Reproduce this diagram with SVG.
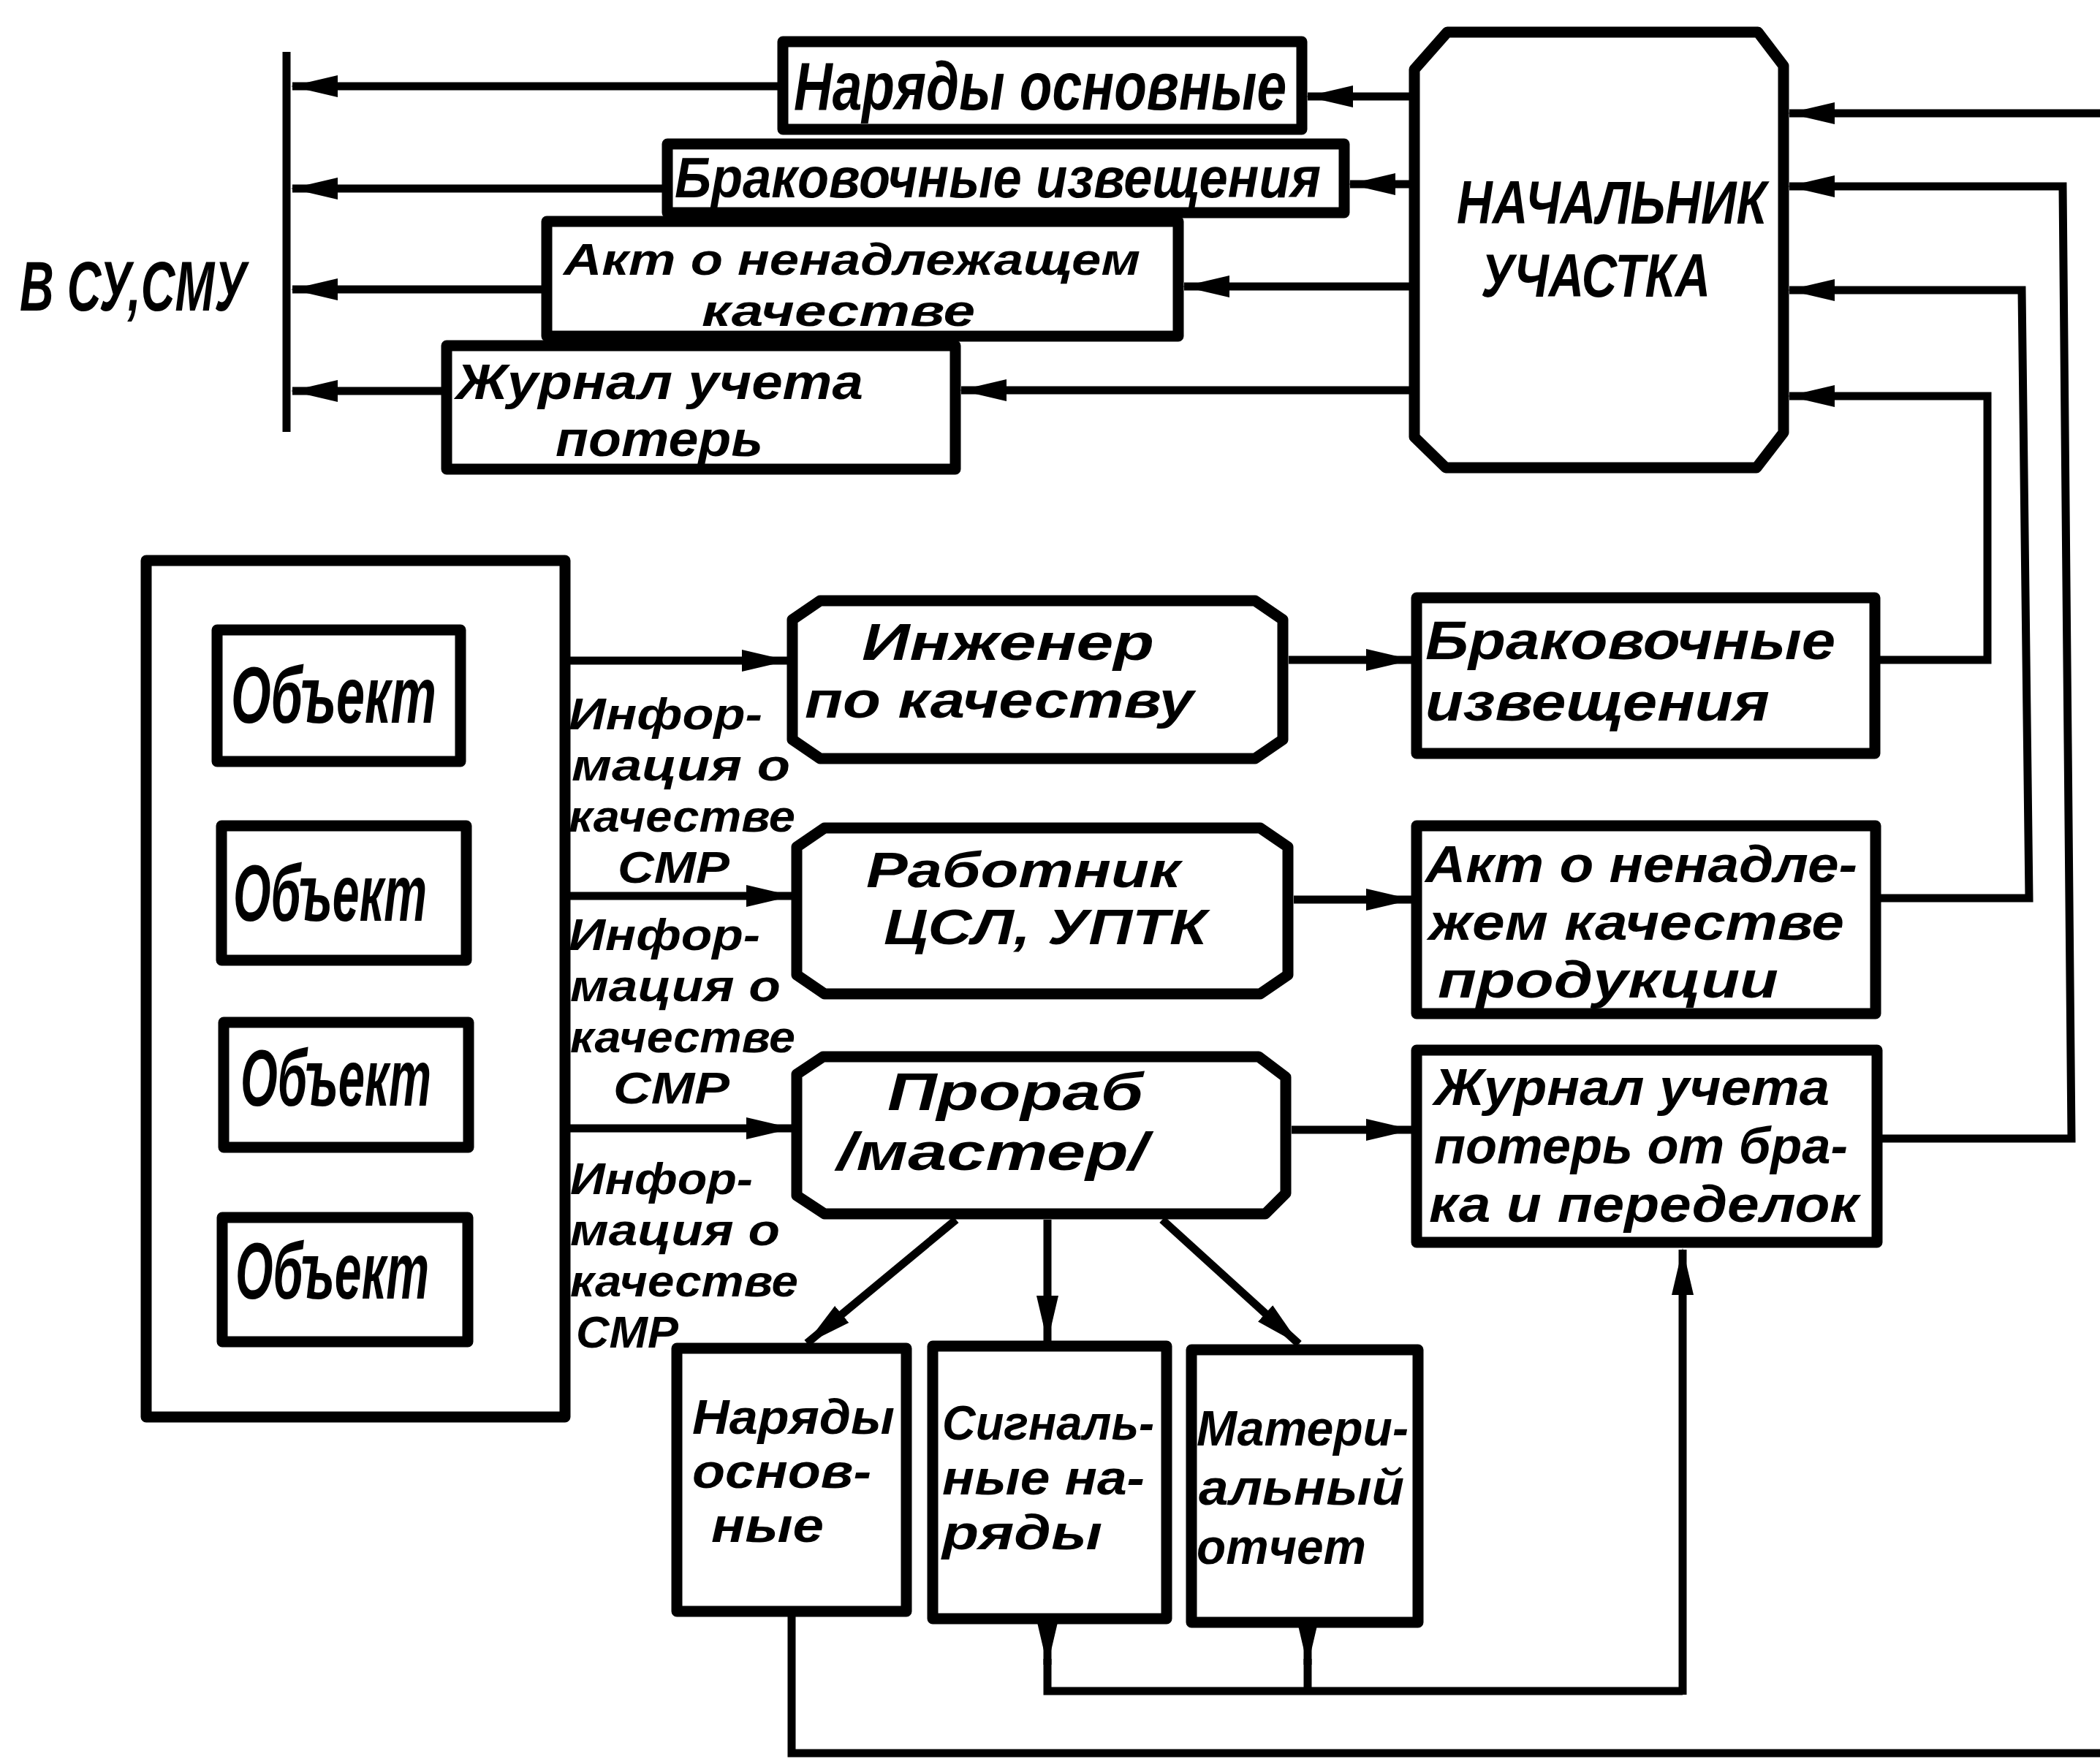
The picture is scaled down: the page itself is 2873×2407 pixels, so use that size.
<svg xmlns="http://www.w3.org/2000/svg" width="2873" height="2407" viewBox="0 0 2873 2407">
<style>
.box{fill:#fff;stroke:#000;stroke-width:15;stroke-linejoin:round}
.ln{fill:none;stroke:#000;stroke-width:11;stroke-linejoin:miter}
.t{font-family:"Liberation Sans",Arial,sans-serif;font-weight:bold;font-style:italic;fill:#000}
</style>
<defs>
<marker id="ah" markerUnits="userSpaceOnUse" markerWidth="64" markerHeight="32" viewBox="0 0 64 32" refX="62" refY="16" orient="auto"><path d="M0,1 L64,16 L0,31 Z" fill="#000"/></marker>
</defs>
<rect width="2873" height="2407" fill="#fff"/>

<text class="t" x="27" y="425" font-size="96" textLength="310" lengthAdjust="spacingAndGlyphs">В СУ,СМУ</text>

<g id="top-naryady">
<rect class="box" x="1071" y="57" width="710" height="120"/>
<text class="t" x="1086" y="150" font-size="92" textLength="674" lengthAdjust="spacingAndGlyphs">Наряды основные</text>
</g>
<g id="top-brak">
<rect class="box" x="913" y="197" width="926" height="94"/>
<text class="t" x="923" y="270" font-size="78" textLength="884" lengthAdjust="spacingAndGlyphs">Браковочные извещения</text>
</g>
<g id="top-akt">
<rect class="box" x="748" y="303" width="864" height="157"/>
<text class="t" x="771" y="376" font-size="62" textLength="789" lengthAdjust="spacingAndGlyphs">Акт о ненадлежащем</text>
<text class="t" x="960" y="446" font-size="62" textLength="374" lengthAdjust="spacingAndGlyphs">качестве</text>
</g>
<g id="top-zhurnal">
<rect class="box" x="611" y="473" width="696" height="169"/>
<text class="t" x="624" y="546" font-size="68" textLength="557" lengthAdjust="spacingAndGlyphs">Журнал учета</text>
<text class="t" x="760" y="624" font-size="68" textLength="284" lengthAdjust="spacingAndGlyphs">потерь</text>
</g>

<g id="nachalnik">
<polygon class="box" points="1980,44 2405,44 2440,90 2440,592 2403,640 1978,640 1935,598 1935,95"/>
<text class="t" x="1993" y="306" font-size="84" textLength="424" lengthAdjust="spacingAndGlyphs">НАЧАЛЬНИК</text>
<text class="t" x="2026" y="406" font-size="84" textLength="314" lengthAdjust="spacingAndGlyphs">УЧАСТКА</text>
</g>

<g id="objects">
<rect class="box" x="200" y="767" width="573" height="1172"/>
<g id="obj1">
<rect class="box" x="297" y="862" width="333" height="180"/>
<text class="t" x="316" y="989" font-size="110" textLength="281" lengthAdjust="spacingAndGlyphs">Объект</text>
</g>
<g id="obj2">
<rect class="box" x="303" y="1130" width="335" height="184"/>
<text class="t" x="319" y="1260" font-size="110" textLength="265" lengthAdjust="spacingAndGlyphs">Объект</text>
</g>
<g id="obj3">
<rect class="box" x="306" y="1399" width="335" height="171"/>
<text class="t" x="329" y="1513" font-size="110" textLength="261" lengthAdjust="spacingAndGlyphs">Объект</text>
</g>
<g id="obj4">
<rect class="box" x="304" y="1666" width="336" height="170"/>
<text class="t" x="322" y="1777" font-size="110" textLength="265" lengthAdjust="spacingAndGlyphs">Объект</text>
</g>
</g>

<g id="info1">
<text class="t" x="778" y="998" font-size="62" textLength="265" lengthAdjust="spacingAndGlyphs">Инфор-</text>
<text class="t" x="782" y="1068" font-size="62" textLength="299" lengthAdjust="spacingAndGlyphs">мация о</text>
<text class="t" x="778" y="1138" font-size="62" textLength="310" lengthAdjust="spacingAndGlyphs">качестве</text>
<text class="t" x="845" y="1208" font-size="62" textLength="153" lengthAdjust="spacingAndGlyphs">СМР</text>
</g>
<g id="info2">
<text class="t" x="778" y="1300" font-size="62" textLength="262" lengthAdjust="spacingAndGlyphs">Инфор-</text>
<text class="t" x="780" y="1370" font-size="62" textLength="288" lengthAdjust="spacingAndGlyphs">мация о</text>
<text class="t" x="780" y="1440" font-size="62" textLength="308" lengthAdjust="spacingAndGlyphs">качестве</text>
<text class="t" x="839" y="1510" font-size="62" textLength="159" lengthAdjust="spacingAndGlyphs">СМР</text>
</g>
<g id="info3">
<text class="t" x="780" y="1634" font-size="62" textLength="250" lengthAdjust="spacingAndGlyphs">Инфор-</text>
<text class="t" x="780" y="1704" font-size="62" textLength="287" lengthAdjust="spacingAndGlyphs">мация о</text>
<text class="t" x="780" y="1774" font-size="62" textLength="312" lengthAdjust="spacingAndGlyphs">качестве</text>
<text class="t" x="788" y="1844" font-size="62" textLength="140" lengthAdjust="spacingAndGlyphs">СМР</text>
</g>

<g id="inzhener">
<polygon class="box" points="1122,822 1717,822 1755,848 1755,1012 1717,1038 1122,1038 1084,1012 1084,848"/>
<text class="t" x="1179" y="903" font-size="70" textLength="400" lengthAdjust="spacingAndGlyphs">Инженер</text>
<text class="t" x="1101" y="982" font-size="70" textLength="532" lengthAdjust="spacingAndGlyphs">по качеству</text>
</g>
<g id="rabotnik">
<polygon class="box" points="1128,1133 1724,1133 1762,1159 1762,1334 1724,1360 1128,1360 1090,1334 1090,1159"/>
<text class="t" x="1185" y="1214" font-size="68" textLength="430" lengthAdjust="spacingAndGlyphs">Работник</text>
<text class="t" x="1209" y="1292" font-size="68" textLength="442" lengthAdjust="spacingAndGlyphs">ЦСЛ, УПТК</text>
</g>
<g id="prorab">
<polygon class="box" points="1126,1446 1722,1446 1759,1474 1759,1633 1731,1661 1128,1661 1090,1636 1090,1470"/>
<text class="t" x="1214" y="1519" font-size="72" textLength="350" lengthAdjust="spacingAndGlyphs">Прораб</text>
<text class="t" x="1145" y="1601" font-size="72" textLength="425" lengthAdjust="spacingAndGlyphs">/мастер/</text>
</g>

<g id="brak-izv">
<rect class="box" x="1938" y="818" width="627" height="213"/>
<text class="t" x="1950" y="902" font-size="74" textLength="561" lengthAdjust="spacingAndGlyphs">Браковочные</text>
<text class="t" x="1950" y="986" font-size="74" textLength="471" lengthAdjust="spacingAndGlyphs">извещения</text>
</g>
<g id="akt">
<rect class="box" x="1938" y="1130" width="628" height="257"/>
<text class="t" x="1950" y="1207" font-size="70" textLength="591" lengthAdjust="spacingAndGlyphs">Акт о ненадле-</text>
<text class="t" x="1955" y="1286" font-size="70" textLength="568" lengthAdjust="spacingAndGlyphs">жем качестве</text>
<text class="t" x="1967" y="1365" font-size="70" textLength="466" lengthAdjust="spacingAndGlyphs">продукции</text>
</g>
<g id="zhurnal">
<rect class="box" x="1938" y="1437" width="630" height="263"/>
<text class="t" x="1962" y="1512" font-size="71" textLength="541" lengthAdjust="spacingAndGlyphs">Журнал учета</text>
<text class="t" x="1962" y="1592" font-size="71" textLength="566" lengthAdjust="spacingAndGlyphs">потерь от бра-</text>
<text class="t" x="1955" y="1672" font-size="71" textLength="588" lengthAdjust="spacingAndGlyphs">ка и переделок</text>
</g>

<g id="naryady">
<rect class="box" x="926" y="1845" width="314" height="360"/>
<text class="t" x="947" y="1962" font-size="66" textLength="277" lengthAdjust="spacingAndGlyphs">Наряды</text>
<text class="t" x="947" y="2036" font-size="66" textLength="245" lengthAdjust="spacingAndGlyphs">основ-</text>
<text class="t" x="973" y="2110" font-size="66" textLength="154" lengthAdjust="spacingAndGlyphs">ные</text>
</g>
<g id="signalnye">
<rect class="box" x="1276" y="1842" width="320" height="373"/>
<text class="t" x="1289" y="1970" font-size="66" textLength="290" lengthAdjust="spacingAndGlyphs">Сигналь-</text>
<text class="t" x="1289" y="2045" font-size="66" textLength="277" lengthAdjust="spacingAndGlyphs">ные на-</text>
<text class="t" x="1289" y="2120" font-size="66" textLength="219" lengthAdjust="spacingAndGlyphs">ряды</text>
</g>
<g id="material">
<rect class="box" x="1630" y="1847" width="310" height="373"/>
<text class="t" x="1637" y="1978" font-size="68" textLength="290" lengthAdjust="spacingAndGlyphs">Матери-</text>
<text class="t" x="1640" y="2059" font-size="68" textLength="281" lengthAdjust="spacingAndGlyphs">альный</text>
<text class="t" x="1637" y="2140" font-size="68" textLength="232" lengthAdjust="spacingAndGlyphs">отчет</text>
</g>

<g id="connectors">
<path class="ln" d="M392,71 V591"/>
<path class="ln" d="M1071,118 H400" marker-end="url(#ah)"/>
<path class="ln" d="M913,258 H400" marker-end="url(#ah)"/>
<path class="ln" d="M748,396 H400" marker-end="url(#ah)"/>
<path class="ln" d="M611,535 H400" marker-end="url(#ah)"/>
<path class="ln" d="M1928,132 H1789" marker-end="url(#ah)"/>
<path class="ln" d="M1928,252 H1847" marker-end="url(#ah)"/>
<path class="ln" d="M1928,392 H1620" marker-end="url(#ah)"/>
<path class="ln" d="M1928,534 H1315" marker-end="url(#ah)"/>
<path class="ln" d="M2873,155 H2448" marker-end="url(#ah)"/>
<path class="ln" d="M2571,1558 H2834 L2822,255 H2448" marker-end="url(#ah)"/>
<path class="ln" d="M2573,1229 H2776 L2766,397 H2448" marker-end="url(#ah)"/>
<path class="ln" d="M2572,903 H2719 V542 H2448" marker-end="url(#ah)"/>
<path class="ln" d="M780,904 H1077" marker-end="url(#ah)"/>
<path class="ln" d="M780,1226 H1083" marker-end="url(#ah)"/>
<path class="ln" d="M780,1544 H1083" marker-end="url(#ah)"/>
<path class="ln" d="M1763,903 H1931" marker-end="url(#ah)"/>
<path class="ln" d="M1770,1231 H1931" marker-end="url(#ah)"/>
<path class="ln" d="M1767,1546 H1931" marker-end="url(#ah)"/>
<path class="ln" d="M1308,1669 L1104,1838" marker-end="url(#ah)"/>
<path class="ln" d="M1433,1669 V1835" marker-end="url(#ah)"/>
<path class="ln" d="M1590,1669 L1777,1839" marker-end="url(#ah)"/>
<path class="ln" d="M1433,2223 V2278" marker-end="url(#ah)"/>
<path class="ln" d="M1789,2228 V2278" marker-end="url(#ah)"/>
<path class="ln" d="M1433,2270 V2314 H2302"/>
<path class="ln" d="M1789,2270 V2314"/>
<path class="ln" d="M2302,2319 V1710" marker-end="url(#ah)"/>
<path class="ln" d="M1083,2212 V2399 H2873"/>
</g>
</svg>
